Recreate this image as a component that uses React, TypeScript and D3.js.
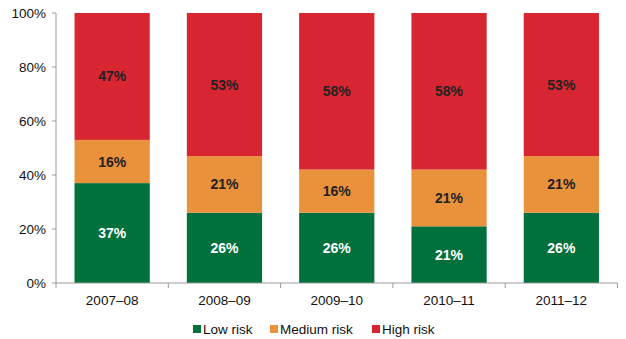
import React from "react";
import * as d3 from "d3";

const categories = ["2007–08", "2008–09", "2009–10", "2010–11", "2011–12"];
const lowRisk = [37, 26, 26, 21, 26];
const mediumRisk = [16, 21, 16, 21, 21];
const highRisk = [47, 53, 58, 58, 53];
const seriesNames = ["Low risk", "Medium risk", "High risk"];
const seriesColors = ["#00713D", "#EA913C", "#D72631"];
const labelColors = ["#ffffff", "#222222", "#222222"];
const yTicks = [0, 20, 40, 60, 80, 100];

export default function App() {
  const W = 626, H = 339;
  const left = 56, right = 617.5, top = 13, bottom = 283;
  const x = d3.scaleBand().domain(categories).range([left, right]).paddingInner(0.33).paddingOuter(0.165);
  const y = d3.scaleLinear().domain([0, 100]).range([bottom, top]);
  const data = categories.map((c, i) => ({ cat: c, low: lowRisk[i], med: mediumRisk[i], high: highRisk[i] }));
  const stack = d3.stack<any>().keys(["low", "med", "high"])(data);
  const step = (right - left) / categories.length;
  const font = "Liberation Sans, Arial, sans-serif";
  const legendX = [193, 270, 372];
  return (
    <svg width={W} height={H} style={{ position: "absolute", left: 0, top: 0 }} fontFamily={font}>
      {stack.map((s, si) =>
        s.map((d, i) => {
          const x0 = x(categories[i])!;
          const y0 = y(d[1]);
          const y1 = y(d[0]);
          return (
            <g key={`${si}-${i}`}>
              <rect x={x0} y={y0} width={x.bandwidth()} height={y1 - y0} fill={seriesColors[si]} />
              <text x={x0 + x.bandwidth() / 2} y={(y0 + y1) / 2 + 5} textAnchor="middle" fontSize={14} fontWeight="bold" fill={labelColors[si]}>
                {`${d[1] - d[0]}%`}
              </text>
            </g>
          );
        })
      )}
      <line x1={left} x2={left} y1={top} y2={bottom} stroke="#999" />
      <line x1={left} x2={right} y1={bottom} y2={bottom} stroke="#999" />
      {yTicks.map((t) => (
        <g key={t}>
          <line x1={left - 4} x2={left} y1={y(t)} y2={y(t)} stroke="#999" />
          <text x={left - 10} y={y(t) + 5} textAnchor="end" fontSize={13.5} fill="#111">{`${t}%`}</text>
        </g>
      ))}
      {d3.range(categories.length + 1).map((i) => (
        <line key={i} x1={left + i * step} x2={left + i * step} y1={bottom} y2={bottom + 5} stroke="#999" />
      ))}
      {categories.map((c) => (
        <text key={c} x={x(c)! + x.bandwidth() / 2} y={bottom + 22} textAnchor="middle" fontSize={13.5} fill="#111">{c}</text>
      ))}
      {seriesNames.map((n, i) => (
        <g key={n}>
          <rect x={legendX[i]} y={325} width={8} height={8} fill={seriesColors[i]} />
          <text x={legendX[i] + 10} y={333.5} fontSize={13.5} fill="#111">{n}</text>
        </g>
      ))}
    </svg>
  );
}
